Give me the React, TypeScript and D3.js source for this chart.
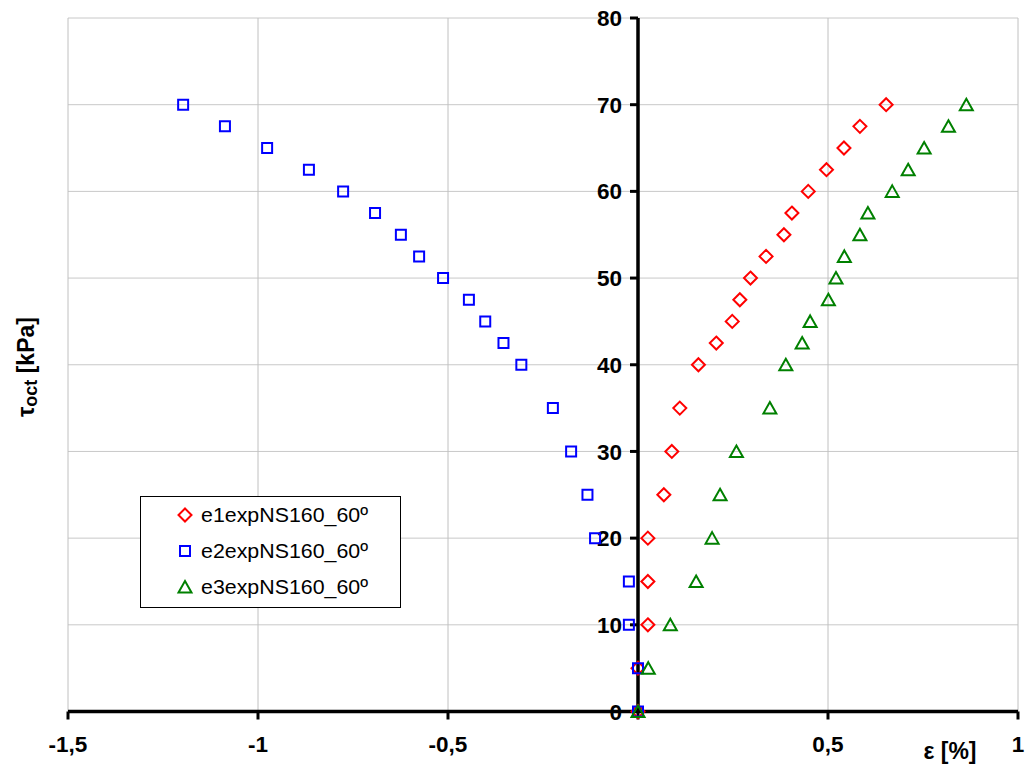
import React from "react";
import * as d3 from "d3";

const tauLevels = [0, 5, 10, 15, 20, 25, 30, 35, 40, 42.5, 45, 47.5, 50, 52.5, 55, 57.5, 60, 62.5, 65, 67.5, 70];
const e1 = [0, 0, 0.026, 0.026, 0.026, 0.068, 0.089, 0.11, 0.159, 0.206, 0.248, 0.268, 0.296, 0.337, 0.384, 0.405, 0.448, 0.496, 0.542, 0.584, 0.653];
const e2 = [0, 0, -0.024, -0.024, -0.113, -0.133, -0.176, -0.224, -0.307, -0.354, -0.402, -0.445, -0.513, -0.576, -0.624, -0.692, -0.776, -0.866, -0.976, -1.087, -1.197];
const e3 = [0, 0.027, 0.085, 0.153, 0.195, 0.216, 0.259, 0.347, 0.389, 0.432, 0.453, 0.501, 0.521, 0.543, 0.584, 0.605, 0.669, 0.711, 0.753, 0.817, 0.864];

const seriesNames = ["e1expNS160_60º", "e2expNS160_60º", "e3expNS160_60º"];
const seriesColors = ["#ff0000", "#0000ff", "#008000"];
const seriesShapes = ["diamond", "square", "triangle"];

const xTicks = [-1.5, -1, -0.5, 0, 0.5, 1];
const xTickLabels = ["-1,5", "-1", "-0,5", "", "0,5", "1"];
const yTicks = [0, 10, 20, 30, 40, 50, 60, 70, 80];

const FONT = "Arial, 'Liberation Sans', Helvetica, sans-serif";

function markerPath(shape: string): string {
  if (shape === "diamond") return "M0,-6.5L6.5,0L0,6.5L-6.5,0Z";
  if (shape === "square") return "M-5,-5H5V5H-5Z";
  return "M0,-6L6.5,5.5H-6.5Z";
}

export default function App() {
  const x = d3.scaleLinear().domain([-1.5, 1]).range([68, 1018]);
  const y = d3.scaleLinear().domain([0, 80]).range([711.5, 18]);
  const x0 = x(0);
  const y0 = y(0);
  const seriesValues = [e1, e2, e3];

  return (
    <svg width={1028} height={764} style={{ position: "absolute", left: 0, top: 0, background: "#fff" }}>
      {/* grid */}
      {yTicks.filter((t) => t !== 0).map((t) => (
        <line key={"gy" + t} x1={x(-1.5)} x2={x(1)} y1={y(t)} y2={y(t)} stroke="#c8c8c8" strokeWidth={1} />
      ))}
      {xTicks.filter((t) => t !== 0).map((t) => (
        <line key={"gx" + t} x1={x(t)} x2={x(t)} y1={y(80)} y2={y0} stroke="#c0c0c0" strokeWidth={1} />
      ))}

      {/* x axis */}
      <line x1={x(-1.5)} x2={x(1)} y1={y0} y2={y0} stroke="#000" strokeWidth={3.5} />
      {xTicks.map((t) => (
        <line key={"xt" + t} x1={x(t)} x2={x(t)} y1={y0} y2={y0 + 8} stroke="#000" strokeWidth={3} />
      ))}
      {xTicks.map((t, i) => (
        <text key={"xl" + t} x={x(t)} y={752} textAnchor="middle" fontFamily={FONT} fontWeight="bold" fontSize={22.5} fill="#000">
          {xTickLabels[i]}
        </text>
      ))}

      {/* y axis */}
      <line x1={x0} x2={x0} y1={y(80)} y2={y0} stroke="#000" strokeWidth={3.5} />
      {yTicks.map((t) => (
        <line key={"yt" + t} x1={x0 - 8} x2={x0} y1={y(t)} y2={y(t)} stroke="#000" strokeWidth={3} />
      ))}
      {yTicks.map((t) => (
        <text key={"yl" + t} x={622} y={y(t)} dy="0.36em" textAnchor="end" fontFamily={FONT} fontWeight="bold" fontSize={22.5} fill="#000">
          {t}
        </text>
      ))}

      {/* axis titles */}
      <text x={950} y={759} textAnchor="middle" fontFamily={FONT} fontWeight="bold" fontSize={23} fill="#000">
        ε [%]
      </text>
      <text transform="translate(34,367) rotate(-90)" textAnchor="middle" fontFamily={FONT} fontWeight="bold" fontSize={23} fill="#000">
        τ<tspan fontSize={18} dy={3}>oct</tspan>
        <tspan dy={-3}> [kPa]</tspan>
      </text>

      {/* series */}
      {seriesValues.map((vals, si) => (
        <g key={"s" + si}>
          {vals.map((v, i) => (
            <path
              key={i}
              d={markerPath(seriesShapes[si])}
              transform={`translate(${x(v)},${y(tauLevels[i])})`}
              fill="none"
              stroke={seriesColors[si]}
              strokeWidth={2}
            />
          ))}
        </g>
      ))}

      {/* legend */}
      <rect x={140.5} y={496.5} width={260} height={111} fill="#fff" stroke="#000" strokeWidth={1} />
      {seriesNames.map((name, i) => (
        <g key={"lg" + i} transform={`translate(0,${515 + i * 36})`}>
          <path d={markerPath(seriesShapes[i])} transform="translate(185,0)" fill="none" stroke={seriesColors[i]} strokeWidth={2} />
          <text x={201} y={0} dy="0.36em" fontFamily={FONT} fontSize={20.5} textLength={167} lengthAdjust="spacingAndGlyphs" fill="#000">
            {name}
          </text>
        </g>
      ))}
    </svg>
  );
}
